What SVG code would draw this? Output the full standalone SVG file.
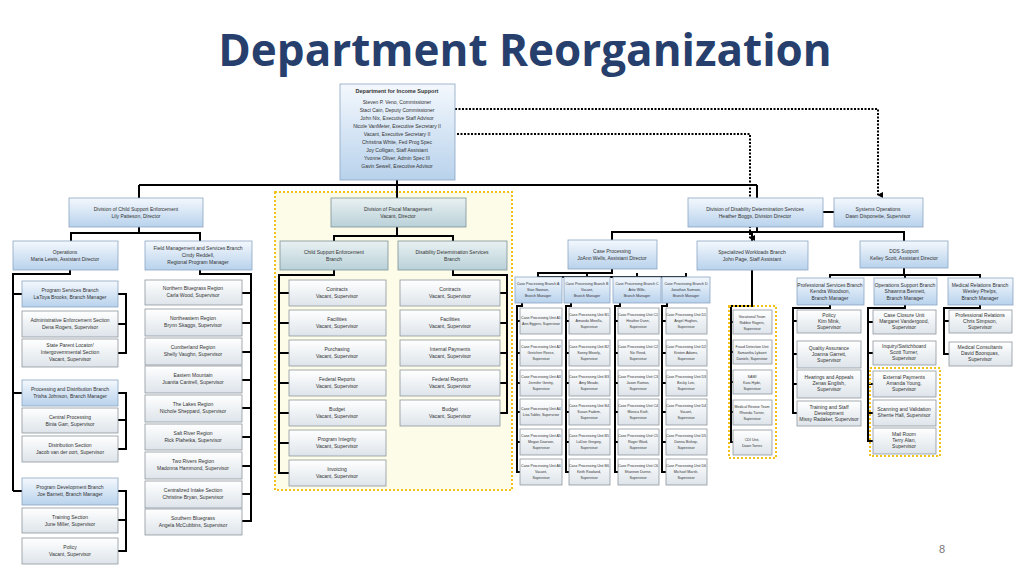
<svg xmlns="http://www.w3.org/2000/svg" width="1024" height="576" viewBox="0 0 1024 576">
<defs>
<linearGradient id="gb" x1="0" y1="0" x2="0" y2="1"><stop offset="0" stop-color="#f4f8fd"/><stop offset="1" stop-color="#b8d2ec"/></linearGradient>
<linearGradient id="gg" x1="0" y1="0" x2="0" y2="1"><stop offset="0" stop-color="#ffffff"/><stop offset="1" stop-color="#dde4ea"/></linearGradient>
<linearGradient id="gt" x1="0" y1="0" x2="0" y2="1"><stop offset="0" stop-color="#e9f1f2"/><stop offset="1" stop-color="#b9d1d8"/></linearGradient>
<marker id="ar" markerWidth="6" markerHeight="6" refX="3" refY="5" orient="auto" markerUnits="userSpaceOnUse"><path d="M0,0 L6,0 L3,6 Z" fill="#000"/></marker>
</defs>
<style>
text{font-family:"Liberation Sans",Arial,sans-serif;fill:#333;text-anchor:middle;font-size:5px}
.t{font-family:"Open Sans","Liberation Sans",sans-serif;font-size:44px;font-weight:bold;fill:#273f6d}
.b{fill:url(#gb);stroke:#8aa6c4;stroke-width:0.8}
.g{fill:url(#gg);stroke:#8e979e;stroke-width:0.8}
.f{fill:url(#gt);stroke:#7e9298;stroke-width:0.8}
.s text{font-size:3.6px}
.c{fill:none;stroke:#000;stroke-width:2}
.d{fill:none;stroke:#000;stroke-width:2;stroke-dasharray:2,1.5}
.y{fill:none;stroke:#f2c21b;stroke-width:2;stroke-dasharray:2,2}
</style>
<rect width="1024" height="576" fill="#fff"/>
<text class="t" x="525" y="66">Department Reorganization</text>
<text x="942" y="553" style="font-size:11px;fill:#777">8</text>
<rect x="275" y="192" width="237" height="298" fill="#fcfce8"/>
<rect x="275" y="192" width="237" height="298" class="y"/>

<g id="connectors">
<path class="c" d="M397,180V198M139,185H757M139,185V198M757,185V198M823,212H834"/>
<path class="c" d="M139,227V233H71V241M139,233H200V241"/>
<path class="c" d="M70,270V274H13V491M13,294H22M13,393H22M13,491H22M118,294H126V353H118M118,324H126M118,393H126V449H118M118,420H126M118,491H126V551H118M118,520H126"/>
<path class="c" d="M200,270V274H251V521H242M242,293H251M242,323H251M242,352H251M242,380H251M242,408H251M242,437H251M242,466H251M242,494H251"/>
<path class="c" d="M397,227V236H334V241M397,236H453V241"/>
<path class="c" d="M334,270V275H279V473H289M279,293H289M279,323H289M279,353H289M279,383H289M279,413H289M279,443H289"/>
<path class="c" d="M453,270V275H507V413H500M500,293H507M500,323H507M500,353H507M500,383H507"/>
<path class="c" d="M757,227V232H612V240M757,232H904V241M752,232V241"/>
<path class="c" d="M612,269V273H538V277M587,273V277M637,273V277M686,273V277H538"/>
<path class="c" d="M522,303V306H517V472H520M517,321H520M517,353H520M517,383H520M517,412H520M517,442H520"/>
<path class="c" d="M571,303V306H566V472H569M566,321H569M566,353H569M566,383H569M566,412H569M566,442H569"/>
<path class="c" d="M620,303V306H615V472H618M615,321H618M615,353H618M615,383H618M615,412H618M615,442H618"/>
<path class="c" d="M667,303V306H662V472H666M662,321H666M662,353H666M662,383H666M662,412H666M662,442H666"/>
<path class="c" d="M752,270V306H731V442H733M731,322H733M731,352H733M731,382H733M731,412H733"/>
<path class="c" d="M904,268V275H830V278M904,275H980V278M905,275V278"/>
<path class="c" d="M830,305V308H793V413H797M793,321H797M793,354H797M793,384H797"/>
<path class="c" d="M905,305V308H868V441H873M868,322H873M868,353H873M868,384H873M868,413H873"/>
<path class="c" d="M980,305V308H944V354H949M944,321H949"/>
<path class="d" d="M455,109H878V195" marker-end="url(#ar)"/>
<path class="d" d="M457,134H750V238" marker-end="url(#ar)"/>
</g>
<rect x="729" y="306" width="47" height="152" class="y"/>
<rect x="870" y="368" width="70" height="88" class="y"/>

<g id="dis"><rect class="b" x="340" y="84" width="115" height="96"/>
<text x="397" y="93" style="font-weight:bold;font-size:5.5px">Department for Income Support</text>
<text x="397" y="104">Steven P. Veno, Commissioner</text><text x="397" y="112">Staci Cain, Deputy Commissioner</text><text x="397" y="120">John Nix, Executive Staff Advisor</text><text x="397" y="128">Nicole VanMeter, Executive Secretary II</text><text x="397" y="136">Vacant, Executive Secretary II</text><text x="397" y="144">Christina White, Fed Prog Spec</text><text x="397" y="152">Joy Colligan, Staff Assistant</text><text x="397" y="160">Yvonne Oliver, Admin Spec III</text><text x="397" y="168">Gavin Sewell, Executive Advisor</text></g>

<g id="dcse"><rect class="b" x="69" y="198" width="134" height="29"/><text x="136" y="211">Division of Child Support Enforcement</text><text x="136" y="218">Lily Patteson, Director</text></g>
<g id="dfm"><rect class="f" x="331" y="198" width="135" height="29"/><text x="398" y="211">Division of Fiscal Management</text><text x="398" y="218">Vacant, Director</text></g>
<g id="ddds"><rect class="b" x="688" y="198" width="135" height="29"/><text x="755" y="211">Division of Disability Determination Services</text><text x="755" y="218">Heather Boggs, Division Director</text></g>
<g id="sysops"><rect class="b" x="834" y="198" width="89" height="29"/><text x="878" y="211">Systems Operations</text><text x="878" y="218">Dawn Disponette, Supervisor</text></g>

<g id="ops"><rect class="b" x="13" y="241" width="105" height="29"/><text x="65" y="254">Operations</text><text x="65" y="261">Maria Lewis, Assistant Director</text></g>
<g id="field"><rect class="b" x="145" y="241" width="107" height="29"/><text x="198" y="250">Field Management and Services Branch</text><text x="198" y="257">Cindy Reddell,</text><text x="198" y="264">Regional Program Manager</text></g>

<g id="psb"><rect class="b" x="22" y="281" width="96" height="26"/><text x="70" y="292">Program Services Branch</text><text x="70" y="299">LaToya Brooks, Branch Manager</text></g>
<g id="aes"><rect class="g" x="22" y="311" width="96" height="26"/><text x="70" y="322">Administrative Enforcement Section</text><text x="70" y="329">Dena Rogers, Supervisor</text></g>
<g id="spl"><rect class="g" x="22" y="339" width="96" height="28"/><text x="70" y="347">State Parent Locator/</text><text x="70" y="354">Intergovernmental Section</text><text x="70" y="361">Vacant, Supervisor</text></g>
<g id="pdb"><rect class="b" x="22" y="380" width="96" height="26"/><text x="70" y="391">Processing and Distribution Branch</text><text x="70" y="398">Trisha Johnson, Branch Manager</text></g>
<g id="cp"><rect class="g" x="22" y="408" width="96" height="25"/><text x="70" y="419">Central Processing</text><text x="70" y="426">Binia Garr, Supervisor</text></g>
<g id="dist"><rect class="g" x="22" y="436" width="96" height="26"/><text x="70" y="447">Distribution Section</text><text x="70" y="454">Jacob van der oort, Supervisor</text></g>
<g id="pdev"><rect class="b" x="22" y="478" width="96" height="27"/><text x="70" y="489">Program Development Branch</text><text x="70" y="496">Joe Barnett, Branch Manager</text></g>
<g id="train"><rect class="g" x="22" y="508" width="96" height="25"/><text x="70" y="519">Training Section</text><text x="70" y="526">June Miller, Supervisor</text></g>
<g id="pol"><rect class="g" x="22" y="538" width="96" height="26"/><text x="70" y="549">Policy</text><text x="70" y="556">Vacant, Supervisor</text></g>

<g id="nb"><rect class="g" x="145" y="280" width="97" height="25"/><text x="193" y="290">Northern Bluegrass Region</text><text x="193" y="297">Carla Wood, Supervisor</text></g>
<g id="ne"><rect class="g" x="145" y="309" width="97" height="27"/><text x="193" y="320">Northeastern Region</text><text x="193" y="327">Brynn Skaggs, Supervisor</text></g>
<g id="cum"><rect class="g" x="145" y="338" width="97" height="27"/><text x="193" y="349">Cumberland Region</text><text x="193" y="356">Shelly Vaughn, Supervisor</text></g>
<g id="em"><rect class="g" x="145" y="366" width="97" height="27"/><text x="193" y="377">Eastern Mountain</text><text x="193" y="384">Juanita Cantrell, Supervisor</text></g>
<g id="lakes"><rect class="g" x="145" y="395" width="97" height="27"/><text x="193" y="406">The Lakes Region</text><text x="193" y="413">Nichole Sheppard, Supervisor</text></g>
<g id="salt"><rect class="g" x="145" y="424" width="97" height="26"/><text x="193" y="435">Salt River Region</text><text x="193" y="442">Rick Plahetka, Supervisor</text></g>
<g id="two"><rect class="g" x="145" y="452" width="97" height="27"/><text x="193" y="463">Two Rivers Region</text><text x="193" y="470">Madonna Hammond, Supervisor</text></g>
<g id="cis"><rect class="g" x="145" y="481" width="97" height="27"/><text x="193" y="492">Centralized Intake Section</text><text x="193" y="499">Christine Bryan, Supervisor</text></g>
<g id="sb"><rect class="g" x="145" y="509" width="97" height="26"/><text x="193" y="520">Southern Bluegrass</text><text x="193" y="527">Angela McCubbins, Supervisor</text></g>

<g id="cseb"><rect class="f" x="280" y="241" width="108" height="29"/><text x="334" y="254">Child Support Enforcement</text><text x="334" y="261">Branch</text></g>
<g id="ddsb"><rect class="f" x="398" y="241" width="109" height="29"/><text x="452" y="254">Disability Determination Services</text><text x="452" y="261">Branch</text></g>
<g id="c1"><rect class="g" x="289" y="280" width="97" height="26"/><text x="337" y="291">Contracts</text><text x="337" y="298">Vacant, Supervisor</text></g>
<g id="c2"><rect class="g" x="289" y="310" width="97" height="26"/><text x="337" y="321">Facilities</text><text x="337" y="328">Vacant, Supervisor</text></g>
<g id="c3"><rect class="g" x="289" y="340" width="97" height="26"/><text x="337" y="351">Purchasing</text><text x="337" y="358">Vacant, Supervisor</text></g>
<g id="c4"><rect class="g" x="289" y="370" width="97" height="26"/><text x="337" y="381">Federal Reports</text><text x="337" y="388">Vacant, Supervisor</text></g>
<g id="c5"><rect class="g" x="289" y="400" width="97" height="26"/><text x="337" y="411">Budget</text><text x="337" y="418">Vacant, Supervisor</text></g>
<g id="c6"><rect class="g" x="289" y="430" width="97" height="26"/><text x="337" y="441">Program Integrity</text><text x="337" y="448">Vacant, Supervisor</text></g>
<g id="c7"><rect class="g" x="289" y="460" width="97" height="26"/><text x="337" y="471">Invoicing</text><text x="337" y="478">Vacant, Supervisor</text></g>
<g id="d1"><rect class="g" x="400" y="280" width="100" height="26"/><text x="450" y="291">Contracts</text><text x="450" y="298">Vacant, Supervisor</text></g>
<g id="d2"><rect class="g" x="400" y="310" width="100" height="26"/><text x="450" y="321">Facilities</text><text x="450" y="328">Vacant, Supervisor</text></g>
<g id="d3"><rect class="g" x="400" y="340" width="100" height="26"/><text x="450" y="351">Internal Payments</text><text x="450" y="358">Vacant, Supervisor</text></g>
<g id="d4"><rect class="g" x="400" y="370" width="100" height="26"/><text x="450" y="381">Federal Reports</text><text x="450" y="388">Vacant, Supervisor</text></g>
<g id="d5"><rect class="g" x="400" y="400" width="100" height="26"/><text x="450" y="411">Budget</text><text x="450" y="418">Vacant, Supervisor</text></g>

<g id="casep"><rect class="b" x="568" y="240" width="89" height="29"/><text x="612" y="253">Case Processing</text><text x="612" y="260">JoAnn Wells, Assistant Director</text></g>
<g class="s">
<g id="bA"><rect class="b" x="515" y="277" width="47" height="26"/><text x="538" y="285">Case Processing Branch A</text><text x="538" y="291">Stan Noonan,</text><text x="538" y="297">Branch Manager</text></g>
<g id="bB"><rect class="b" x="564" y="277" width="46" height="26"/><text x="587" y="285">Case Processing Branch B</text><text x="587" y="291">Vacant,</text><text x="587" y="297">Branch Manager</text></g>
<g id="bC"><rect class="b" x="613" y="277" width="48" height="26"/><text x="637" y="285">Case Processing Branch C</text><text x="637" y="291">Artie Wille,</text><text x="637" y="297">Branch Manager</text></g>
<g id="bD"><rect class="b" x="662" y="277" width="48" height="26"/><text x="686" y="285">Case Processing Branch D</text><text x="686" y="291">Jonathan Samson,</text><text x="686" y="297">Branch Manager</text></g>
<g id="uA1"><rect class="g" x="520" y="308" width="42" height="26"/><text x="541" y="319">Case Processing Unit A1</text><text x="541" y="325">Ann Eggers, Supervisor</text></g>
<g id="uA2"><rect class="g" x="520" y="340" width="42" height="26"/><text x="541" y="348">Case Processing Unit A2</text><text x="541" y="354">Gretchen Reece,</text><text x="541" y="360">Supervisor</text></g>
<g id="uA3"><rect class="g" x="520" y="370" width="42" height="26"/><text x="541" y="378">Case Processing Unit A3</text><text x="541" y="384">Jennifer Gentry,</text><text x="541" y="390">Supervisor</text></g>
<g id="uA4"><rect class="g" x="520" y="399" width="42" height="26"/><text x="541" y="410">Case Processing Unit A4</text><text x="541" y="416">Lisa Tabler, Supervisor</text></g>
<g id="uA5"><rect class="g" x="520" y="429" width="42" height="26"/><text x="541" y="437">Case Processing Unit A5</text><text x="541" y="443">Megan Dawson,</text><text x="541" y="449">Supervisor</text></g>
<g id="uA6"><rect class="g" x="520" y="459" width="42" height="26"/><text x="541" y="467">Case Processing Unit A6</text><text x="541" y="473">Vacant,</text><text x="541" y="479">Supervisor</text></g>
<g id="uB1"><rect class="g" x="569" y="308" width="41" height="26"/><text x="589" y="316">Case Processing Unit B1</text><text x="589" y="322">Amanda Minella,</text><text x="589" y="328">Supervisor</text></g>
<g id="uB2"><rect class="g" x="569" y="340" width="41" height="26"/><text x="589" y="348">Case Processing Unit B2</text><text x="589" y="354">Sonny Mosely,</text><text x="589" y="360">Supervisor</text></g>
<g id="uB3"><rect class="g" x="569" y="370" width="41" height="26"/><text x="589" y="378">Case Processing Unit B3</text><text x="589" y="384">Amy Meade,</text><text x="589" y="390">Supervisor</text></g>
<g id="uB4"><rect class="g" x="569" y="399" width="41" height="26"/><text x="589" y="407">Case Processing Unit B4</text><text x="589" y="413">Susan Fadem,</text><text x="589" y="419">Supervisor</text></g>
<g id="uB5"><rect class="g" x="569" y="429" width="41" height="26"/><text x="589" y="437">Case Processing Unit B5</text><text x="589" y="443">LaDon Gregory,</text><text x="589" y="449">Supervisor</text></g>
<g id="uB6"><rect class="g" x="569" y="459" width="41" height="26"/><text x="589" y="467">Case Processing Unit B6</text><text x="589" y="473">Keith Rowland,</text><text x="589" y="479">Supervisor</text></g>
<g id="uC1"><rect class="g" x="618" y="308" width="41" height="26"/><text x="638" y="316">Case Processing Unit C1</text><text x="638" y="322">Heather Dunn,</text><text x="638" y="328">Supervisor</text></g>
<g id="uC2"><rect class="g" x="618" y="340" width="41" height="26"/><text x="638" y="348">Case Processing Unit C2</text><text x="638" y="354">Nic Reed,</text><text x="638" y="360">Supervisor</text></g>
<g id="uC3"><rect class="g" x="618" y="370" width="41" height="26"/><text x="638" y="378">Case Processing Unit C3</text><text x="638" y="384">Jason Ramos,</text><text x="638" y="390">Supervisor</text></g>
<g id="uC4"><rect class="g" x="618" y="399" width="41" height="26"/><text x="638" y="407">Case Processing Unit C4</text><text x="638" y="413">Monica Kraft,</text><text x="638" y="419">Supervisor</text></g>
<g id="uC5"><rect class="g" x="618" y="429" width="41" height="26"/><text x="638" y="437">Case Processing Unit C5</text><text x="638" y="443">Roger Ward,</text><text x="638" y="449">Supervisor</text></g>
<g id="uC6"><rect class="g" x="618" y="459" width="41" height="26"/><text x="638" y="467">Case Processing Unit C6</text><text x="638" y="473">Shannon Dunne,</text><text x="638" y="479">Supervisor</text></g>
<g id="uD1"><rect class="g" x="666" y="308" width="41" height="26"/><text x="686" y="316">Case Processing Unit D1</text><text x="686" y="322">Angel Hughes,</text><text x="686" y="328">Supervisor</text></g>
<g id="uD2"><rect class="g" x="666" y="340" width="41" height="26"/><text x="686" y="348">Case Processing Unit D2</text><text x="686" y="354">Kristen Adams,</text><text x="686" y="360">Supervisor</text></g>
<g id="uD3"><rect class="g" x="666" y="370" width="41" height="26"/><text x="686" y="378">Case Processing Unit D3</text><text x="686" y="384">Becky Lee,</text><text x="686" y="390">Supervisor</text></g>
<g id="uD4"><rect class="g" x="666" y="399" width="41" height="26"/><text x="686" y="407">Case Processing Unit D4</text><text x="686" y="413">Vacant,</text><text x="686" y="419">Supervisor</text></g>
<g id="uD5"><rect class="g" x="666" y="429" width="41" height="26"/><text x="686" y="437">Case Processing Unit D5</text><text x="686" y="443">Donna Bishop,</text><text x="686" y="449">Supervisor</text></g>
<g id="uD6"><rect class="g" x="666" y="459" width="41" height="26"/><text x="686" y="467">Case Processing Unit D6</text><text x="686" y="473">Michael Marsh,</text><text x="686" y="479">Supervisor</text></g>
<g id="sw1"><rect class="g" x="733" y="310" width="39" height="24"/><text x="752" y="318">Vocational Team</text><text x="752" y="324">Robbie Rogers,</text><text x="752" y="330">Supervisor</text></g>
<g id="sw2"><rect class="g" x="733" y="340" width="39" height="24"/><text x="752" y="348">Fraud Detection Unit</text><text x="752" y="354">Samantha Lybaert</text><text x="752" y="360">Daniels, Supervisor</text></g>
<g id="sw3"><rect class="g" x="733" y="370" width="39" height="24"/><text x="752" y="378">SAMI</text><text x="752" y="384">Kara Hyde,</text><text x="752" y="390">Supervisor</text></g>
<g id="sw4"><rect class="g" x="733" y="400" width="39" height="25"/><text x="752" y="408">Medical Review Team</text><text x="752" y="414">Rhonda Turner,</text><text x="752" y="420">Supervisor</text></g>
<g id="sw5"><rect class="g" x="733" y="430" width="39" height="25"/><text x="752" y="441">CDI Unit,</text><text x="752" y="447">Dawn Torres</text></g>
</g>

<g id="spw"><rect class="b" x="697" y="241" width="111" height="29"/><text x="752" y="254">Specialized Workloads Branch</text><text x="752" y="261">John Page, Staff Assistant</text></g>
<g id="ddssup"><rect class="b" x="860" y="241" width="88" height="27"/><text x="904" y="253">DDS Support</text><text x="904" y="260">Kelley Scott, Assistant Director</text></g>
<g id="profb"><rect class="b" x="797" y="278" width="67" height="27"/><text x="830" y="287">Professional Services Branch</text><text x="830" y="293">Kendra Woodson,</text><text x="830" y="300">Branch Manager</text></g>
<g id="opsb"><rect class="b" x="874" y="278" width="63" height="27"/><text x="905" y="287">Operations Support Branch</text><text x="905" y="293">Shawnna Bennett,</text><text x="905" y="300">Branch Manager</text></g>
<g id="medb"><rect class="b" x="948" y="278" width="65" height="27"/><text x="980" y="287">Medical Relations Branch</text><text x="980" y="293">Wesley Phelps,</text><text x="980" y="300">Branch Manager</text></g>
<g id="p1"><rect class="g" x="797" y="310" width="64" height="23"/><text x="829" y="317">Policy</text><text x="829" y="323">Kim Mink,</text><text x="829" y="329">Supervisor</text></g>
<g id="p2"><rect class="g" x="797" y="341" width="64" height="27"/><text x="829" y="350">Quality Assurance</text><text x="829" y="356">Joanna Garrett,</text><text x="829" y="362">Supervisor</text></g>
<g id="p3"><rect class="g" x="797" y="370" width="64" height="28"/><text x="829" y="379">Hearings and Appeals</text><text x="829" y="385">Zenas English,</text><text x="829" y="391">Supervisor</text></g>
<g id="p4"><rect class="g" x="797" y="401" width="64" height="25"/><text x="829" y="409">Training and Staff</text><text x="829" y="415">Development</text><text x="829" y="421">Missy Radaker, Supervisor</text></g>
<g id="o1"><rect class="g" x="873" y="310" width="63" height="24"/><text x="904" y="317">Case Closure Unit</text><text x="904" y="323">Margaret Vandergood,</text><text x="904" y="329">Supervisor</text></g>
<g id="o2"><rect class="g" x="873" y="341" width="63" height="24"/><text x="904" y="348">Inquiry/Switchboard</text><text x="904" y="354">Scott Turner,</text><text x="904" y="360">Supervisor</text></g>
<g id="o3"><rect class="g" x="873" y="371" width="63" height="26"/><text x="904" y="379">External Payments</text><text x="904" y="385">Amanda Young,</text><text x="904" y="391">Supervisor</text></g>
<g id="o4"><rect class="g" x="873" y="400" width="63" height="26"/><text x="904" y="411">Scanning and Validation</text><text x="904" y="417">Sherrie Hall, Supervisor</text></g>
<g id="o5"><rect class="g" x="873" y="428" width="63" height="26"/><text x="904" y="436">Mail Room</text><text x="904" y="442">Terry Alan,</text><text x="904" y="448">Supervisor</text></g>
<g id="m1"><rect class="g" x="949" y="310" width="63" height="23"/><text x="980" y="317">Professional Relations</text><text x="980" y="323">Chris Simpson,</text><text x="980" y="329">Supervisor</text></g>
<g id="m2"><rect class="g" x="949" y="342" width="63" height="24"/><text x="980" y="349">Medical Consultants</text><text x="980" y="355">David Boonquas,</text><text x="980" y="361">Supervisor</text></g>
</svg>
